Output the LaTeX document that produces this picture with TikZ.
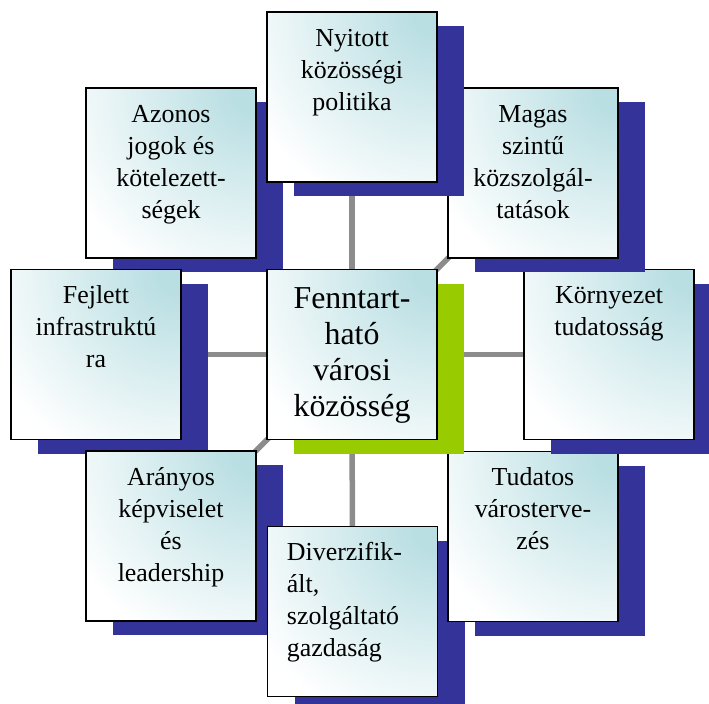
\documentclass[tikz,border=0pt]{standalone}
\usepackage{fontspec}
\setmainfont{Liberation Serif}
\usetikzlibrary{shadows}
\pgfdeclarelayer{background}
\pgfsetlayers{background,main}
\definecolor{shadowblue}{RGB}{51,51,153}
\definecolor{limegreen}{RGB}{153,204,0}
\definecolor{glowteal}{RGB}{186,223,227}
\definecolor{linkgray}{RGB}{140,140,140}
\pgfdeclareradialshading{cornerglow}{\pgfpoint{0bp}{0bp}}{color(0bp)=(glowteal); color(3bp)=(glowteal); color(25bp)=(white); color(50bp)=(white)}
\begin{document}
\begin{tikzpicture}[x=1bp,y=-1bp,
  boxbase/.style={draw=black, line width=1.5bp, fill=white, minimum size=170bp, inner sep=0pt,
    path picture={\shade[shading=cornerglow] (path picture bounding box.north east) circle[radius=210bp];}},
  satbox/.style={boxbase, general shadow={fill=shadowblue, shadow xshift=27bp, shadow yshift=-14bp}},
  hubbox/.style={boxbase, general shadow={fill=limegreen, shadow xshift=27bp, shadow yshift=-14bp}},
  lbl/.style={font=\fontsize{26}{32}\selectfont, align=center, inner sep=0pt, anchor=north, text=black},
  hublbl/.style={font=\fontsize{32}{36}\selectfont, align=center, inner sep=0pt, anchor=north, text=black},
  link/.style={draw=linkgray, line width=5.5bp}
]
\useasboundingbox (0,0) rectangle (709,704);
\clip (0,0) rectangle (709,704);

\node[satbox] (nw) at (171,173) {};
\node[lbl] at ([yshift=-11bp]nw.north) {\rule{0pt}{24bp}Azonos\\jogok és\\kötelezett-\\ségek};

\node[satbox] (w) at (96,354.5) {};
\node[lbl] at ([yshift=-11bp]w.north) {\rule{0pt}{24bp}Fejlett\\infrastruktú\\ra};

\node[satbox] (sw) at (171,536) {};
\node[lbl] at ([yshift=-11bp]sw.north) {\rule{0pt}{24bp}Arányos\\képviselet\\és\\leadership};

\node[satbox] (s) at (352.5,611.5) {};
\node[lbl, align=left, anchor=north west] at ([xshift=20bp,yshift=-11bp]s.north west) {\rule{0pt}{24bp}Diverzifik-\\ált,\\szolgáltató\\gazdaság};

\node[satbox] (se) at (533,536.5) {};
\node[lbl] at ([yshift=-11bp]se.north) {\rule{0pt}{24bp}Tudatos\\városterve-\\zés};

\node[satbox] (e) at (609,354.5) {};
\node[lbl] at ([yshift=-11bp]e.north) {\rule{0pt}{24bp}Környezet\\tudatosság};

\node[satbox] (ne) at (533,173) {};
\node[lbl] at ([yshift=-11bp]ne.north) {\rule{0pt}{24bp}Magas\\szintű\\közszolgál-\\tatások};

\node[satbox] (n) at (352,97) {};
\node[lbl] at ([yshift=-11bp]n.north) {\rule{0pt}{24bp}Nyitott\\közösségi\\politika};

\node[hubbox] (c) at (352,354.5) {};
\node[hublbl] at ([yshift=-11bp]c.north) {\rule{0pt}{29bp}Fenntart-\\ható\\városi\\közösség};

\begin{pgfonlayer}{background}
\draw[link] (c.center) -- (n.center);
\draw[link] (c.center) -- (ne.center);
\draw[link] (c.center) -- (e.center);
\draw[link] (c.center) -- (se.center);
\draw[link] (c.center) -- (s.center);
\draw[link] (c.center) -- (sw.center);
\draw[link] (c.center) -- (w.center);
\draw[link] (c.center) -- (nw.center);
\end{pgfonlayer}
\end{tikzpicture}
\end{document}
